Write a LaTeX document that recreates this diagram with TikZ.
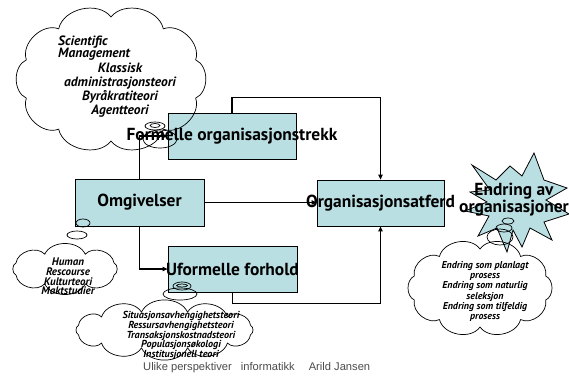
\documentclass[tikz,border=0pt]{standalone}
\usepackage{fontspec}
\setmainfont{PT Sans}
\newfontfamily\footfont{Liberation Sans}
\usetikzlibrary{shapes.geometric,arrows.meta}
\definecolor{boxfill}{RGB}{186,223,227}
% cloud outline: centre (#1,#2), radii #3/#4 of the base ellipse, #5 puffs
\newcommand\puffcloud[5]{%
  \draw[line width=0.7pt] ([shift={(#1,#2)}]{180/#5}:#3 and #4)
    \foreach \k in {1,...,#5} { to[bend left=65] ([shift={(#1,#2)}]{180/#5+360*\k/#5}:#3 and #4) };}
\begin{document}
\begin{tikzpicture}[x=1bp,y=-1bp,
  panel/.style={draw=black, line width=0.8pt, fill=boxfill, inner sep=0pt},
  title/.style={font=\fontsize{17.5}{17}\selectfont\bfseries, inner sep=0pt, align=center},
  link/.style={line width=1.1pt, -{Triangle[length=5pt,width=4.5pt]}},
  bubble/.style={draw, ellipse, inner sep=0pt, line width=0.7pt},
  idea/.style={inner sep=0pt, align=center}
]
\path[use as bounding box, fill=white] (0,0) rectangle (569,383);

% the four boxes of the model
\node[panel, minimum width=128bp, minimum height=46bp] (formal) at (232,136) {};
\node[panel, minimum width=129bp, minimum height=47bp] (omg) at (139.5,202.5) {};
\node[panel, minimum width=127bp, minimum height=46bp] (atf) at (380.5,203) {};
\node[panel, minimum width=129bp, minimum height=46bp] (ufo) at (232.5,269) {};

% connectors
\draw[link] (formal.north) -- ++(0,-15) -| (atf.north);
\draw[link] (omg.north) |- (formal.west);
\draw[link] (omg.east) -- (omg.east -| atf.west);
\draw[link] (omg.south) |- (ufo.west);
\draw[link] (ufo.south) -- ++(0,11) -| (atf.south);

% change star
\draw[fill=boxfill, line width=0.8pt]
  (472,165) -- (496,180) -- (510,166) -- (522,176) -- (534,153) -- (544,180)
  -- (567,188) -- (546,200) -- (569,214) -- (544,222) -- (552,240) -- (530,228)
  -- (522,247) -- (513,230) -- (507,252) -- (497,228) -- (478,236) -- (489,216)
  -- (465,211) -- (487,202) -- (470,192) -- (490,190) -- cycle;

% theory clouds
\puffcloud{111}{79}{89}{62}{10}
\puffcloud{65}{269}{53}{16}{8}
\puffcloud{164.5}{330}{89}{18.5}{12}
\puffcloud{480}{288}{69}{39}{10}

% thought bubbles
\node[bubble, minimum width=20bp, minimum height=8bp] (b1) at (155,126) {};
\node[bubble, minimum width=10bp, minimum height=4bp] (b1i) at (155,125.5) {};
\node[bubble, minimum width=34bp, minimum height=18bp] (b2) at (160,139) {};
\node[bubble, minimum width=14bp, minimum height=8bp] (b3) at (83,223) {};
\node[bubble, minimum width=20bp, minimum height=8bp] (b4) at (77,235) {};
\node[bubble, minimum width=18bp, minimum height=8bp] (b5) at (182,286) {};
\node[bubble, minimum width=11bp, minimum height=3bp] (b5i) at (182,285.5) {};
\node[bubble, minimum width=34bp, minimum height=12bp] (b6) at (180,294) {};
\node[bubble, minimum width=12bp, minimum height=6bp] (b7) at (508,221) {};
\node[bubble, minimum width=16bp, minimum height=8bp] (b8) at (504,228) {};
\node[bubble, minimum width=26bp, minimum height=16bp] (b9) at (500,237) {};

% box titles
\node[title] (tformal) at (formal) {Formelle organisasjonstrekk};
\node[title] (tomg) at (omg) {Omgivelser};
\node[title] (tatf) at (atf) {Organisasjonsatferd};
\node[title] (tufo) at (ufo) {Uformelle forhold};
\node[title] (tstar) at (514,200) {Endring av\\organisasjoner};

% cloud texts
\node[idea, align=left, anchor=west, font=\fontsize{13.5}{12.5}\selectfont\bfseries\itshape] (tsm) at (58,48) {Scientific\\Management};
\node[idea, font=\fontsize{13.5}{14}\selectfont\bfseries\itshape] (tcl) at (120,90) {Klassisk\\administrasjonsteori\\Byråkratiteori\\Agentteori};
\node[idea, font=\fontsize{11}{9.8}\selectfont\bfseries\itshape] (thu) at (68,276.5) {Human\\Rescourse\\Kulturteori\\Maktstudier};
\node[idea, font=\fontsize{10.2}{9.75}\selectfont\bfseries\itshape] (tmo) at (181,335.5) {Situasjonsavhengighetsteori\\Ressursavhengighetsteori\\Transaksjonskostnadsteori\\Populasjonsøkologi\\Institusjonell teori};
\node[idea, font=\fontsize{10}{10.2}\selectfont\bfseries\itshape] (tch) at (485,291.5) {Endring som planlagt\\prosess\\Endring som naturlig\\seleksjon\\Endring som tilfeldig\\prosess};

% footer
\node[anchor=base west, inner sep=0pt, text=gray!60!black, font=\footfont\fontsize{11.2}{13}\selectfont] (foot) at (143,370) {Ulike perspektiver\hspace{9bp}informatikk\hspace{14bp}Arild Jansen};
\end{tikzpicture}
\end{document}
